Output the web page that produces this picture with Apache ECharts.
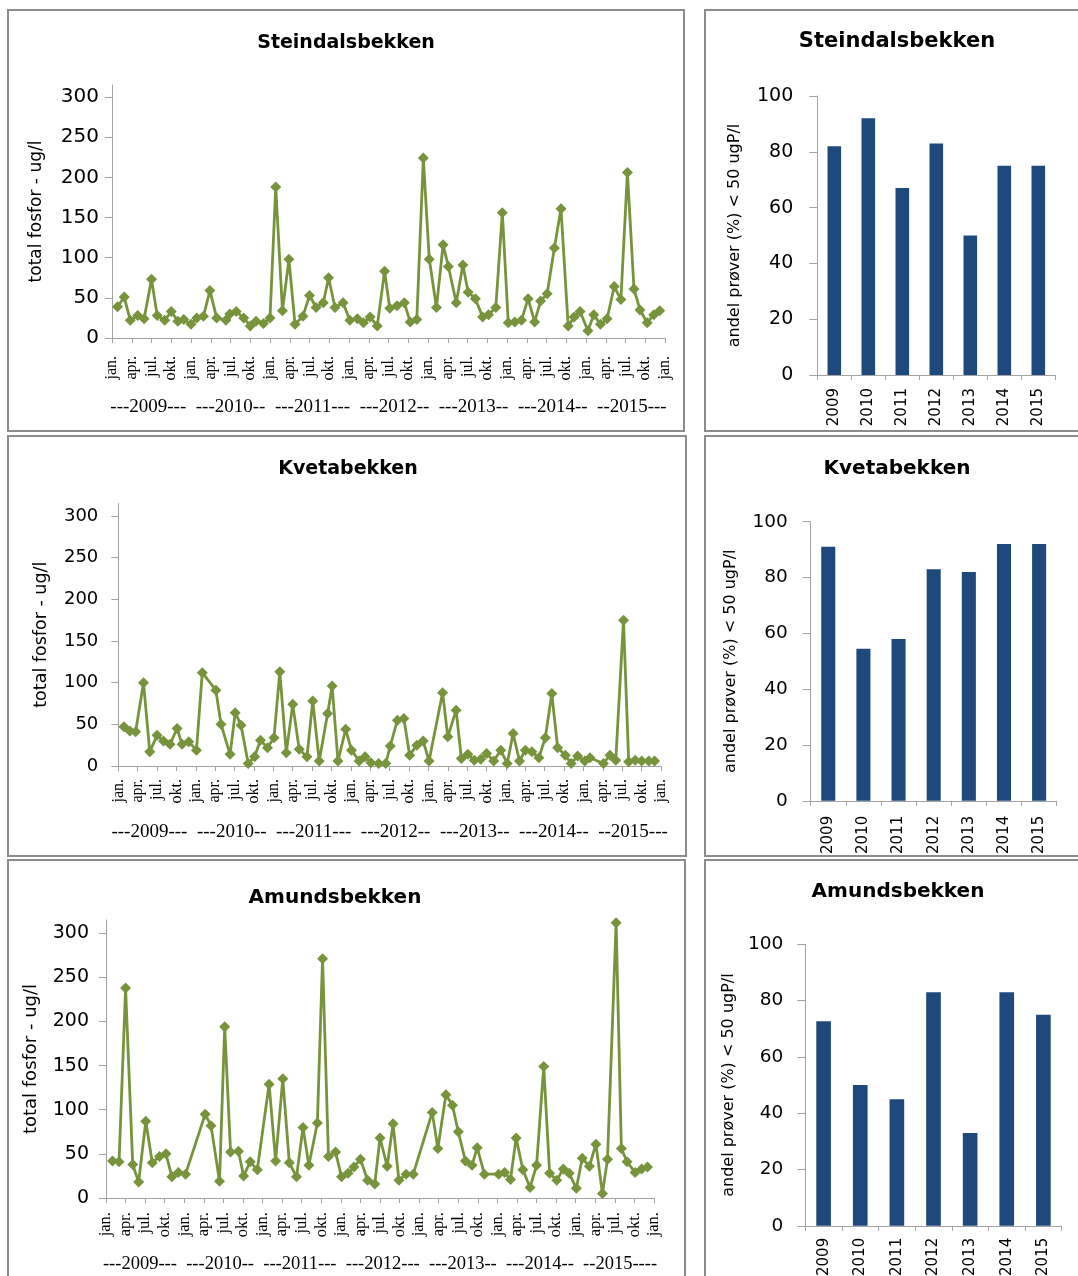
<!DOCTYPE html>
<html>
<head>
<meta charset="utf-8">
<script src="https://cdn.jsdelivr.net/npm/echarts@6/dist/echarts.min.js"></script>
<style>
  html, body { margin: 0; padding: 0; background: #fff; width: 1078px; height: 1276px; overflow: hidden; position: relative; }
  .panel { position: absolute; }
  .frame { position: absolute; box-sizing: border-box; border: 2px solid #8c8c8c; pointer-events: none; }
</style>
</head>
<body>
<div id="lt" class="panel" style="left:7px;top:9px;width:678px;height:423px"></div>
<div id="lm" class="panel" style="left:7px;top:435px;width:680px;height:422px"></div>
<div id="lb" class="panel" style="left:7px;top:859px;width:679px;height:420px"></div>
<div id="rt" class="panel" style="left:704px;top:9px;width:380px;height:423px"></div>
<div id="rm" class="panel" style="left:704px;top:435px;width:380px;height:422px"></div>
<div id="rb" class="panel" style="left:704px;top:859px;width:380px;height:420px"></div>
<div class="frame" style="left:7px;top:9px;width:678px;height:423px"></div>
<div class="frame" style="left:7px;top:435px;width:680px;height:422px"></div>
<div class="frame" style="left:7px;top:859px;width:679px;height:420px"></div>
<div class="frame" style="left:704px;top:9px;width:380px;height:423px"></div>
<div class="frame" style="left:704px;top:435px;width:380px;height:422px"></div>
<div class="frame" style="left:704px;top:859px;width:380px;height:420px"></div>
<script>
// ---- tick labels ----
const MONTH_LABELS = ['jan.', 'apr.', 'jul.', 'okt.'];
const YEARS = ['2009', '2010', '2011', '2012', '2013', '2014', '2015'];
const YEAR_LINE_A = '---2009---  ---2010--  ---2011---  ---2012--  ---2013--  ---2014--  --2015---';
const YEAR_LINE_B = '---2009---  ---2010--  ---2011---  ---2012---  ---2013--  ---2014--  --2015----';
const Y_TICKS_TP = [0, 50, 100, 150, 200, 250, 300];

// ---- Steindalsbekken: total phosphorus samples (ug/l) ----
const steindalDates = [
  '2009-01-27','2009-02-25','2009-03-25','2009-04-28','2009-05-28','2009-07-01','2009-07-28','2009-09-01','2009-10-01','2009-11-01','2009-11-28',
  '2010-01-01','2010-01-28','2010-02-26','2010-03-28','2010-04-28','2010-06-10','2010-06-28','2010-07-28','2010-09-01','2010-10-01','2010-10-28','2010-12-01',
  '2011-01-01','2011-01-28','2011-02-26','2011-03-28','2011-04-25','2011-06-01','2011-07-01','2011-08-01','2011-09-04','2011-09-28','2011-10-28','2011-12-04',
  '2012-01-05','2012-02-09','2012-03-07','2012-04-07','2012-05-10','2012-06-13','2012-07-07','2012-08-10','2012-09-13','2012-10-10','2012-11-10','2012-12-10',
  '2013-01-07','2013-02-09','2013-03-10','2013-04-04','2013-05-10','2013-06-10','2013-07-04','2013-08-07','2013-09-10','2013-10-07','2013-11-10','2013-12-10',
  '2014-01-07','2014-02-06','2014-03-07','2014-04-07','2014-05-07','2014-06-04','2014-07-04','2014-08-07','2014-09-07','2014-10-10','2014-11-07','2014-12-04',
  '2015-01-10','2015-02-06','2015-03-07','2015-04-07','2015-05-10','2015-06-10','2015-07-10','2015-08-10','2015-09-07','2015-10-10','2015-11-10','2015-12-07'
];
const steindalTP = [
  39, 51, 22, 28, 24, 73, 28, 22, 33, 21, 23,
  17, 25, 27, 59, 25, 22, 30, 33, 25, 15, 21, 18,
  25, 188, 34, 98, 17, 27, 53, 38, 44, 75, 38, 44,
  22, 24, 19, 26, 15, 83, 37, 40, 44, 20, 23, 224,
  98, 38, 116, 89, 44, 91, 57, 49, 26, 29, 38, 156,
  19, 20, 22, 49, 20, 46, 55, 112, 161, 15, 26, 33,
  9, 29, 17, 24, 64, 48, 206, 61, 35, 19, 29, 34
];

// ---- Kvetabekken ----
const kvetaDates = [
  '2009-01-28','2009-02-23','2009-03-22','2009-04-28','2009-05-28','2009-07-01','2009-08-01','2009-09-01','2009-10-04','2009-10-28','2009-11-28',
  '2010-01-04','2010-02-01','2010-04-04','2010-04-28','2010-06-10','2010-07-04','2010-08-01','2010-09-04','2010-10-04','2010-11-01','2010-12-04',
  '2011-01-04','2011-02-01','2011-03-01','2011-04-01','2011-05-01','2011-06-07','2011-07-04','2011-08-04','2011-09-13','2011-10-04','2011-11-01','2011-12-07',
  '2012-01-04','2012-02-09','2012-03-07','2012-04-04','2012-05-10','2012-06-13','2012-07-04','2012-08-07','2012-09-07','2012-10-04','2012-11-07','2012-12-07',
  '2013-01-04','2013-03-07','2013-04-01','2013-05-10','2013-06-04','2013-07-04','2013-08-04','2013-09-04','2013-10-01','2013-11-04','2013-12-07',
  '2014-01-07','2014-02-04','2014-03-04','2014-04-01','2014-05-01','2014-06-04','2014-07-04','2014-08-04','2014-09-01','2014-10-07','2014-11-04','2014-12-04',
  '2015-01-07','2015-02-01','2015-04-04','2015-05-04','2015-06-01','2015-07-07','2015-08-01','2015-09-01','2015-10-01','2015-11-04','2015-12-01'
];
const kvetaTP = [
  47, 42, 41, 100, 17, 37, 30, 26, 45, 26, 29,
  19, 112, 91, 50, 14, 64, 49, 3, 11, 31, 22,
  34, 113, 16, 74, 20, 11, 78, 6, 63, 96, 6, 44,
  19, 6, 11, 4, 3, 3, 24, 55, 57, 13, 25, 30,
  6, 88, 35, 67, 9, 14, 7, 8, 15, 6, 19,
  3, 39, 6, 19, 17, 10, 34, 87, 22, 13, 3, 12,
  6, 10, 3, 13, 7, 175, 5, 7, 6, 6, 6
];

// ---- Amundsbekken ----
const amundDates = [
  '2009-02-01','2009-03-01','2009-04-01','2009-05-04','2009-06-01','2009-07-04','2009-08-04','2009-09-07','2009-10-07','2009-11-04','2009-12-04',
  '2010-01-07','2010-04-07','2010-05-04','2010-06-13','2010-07-07','2010-08-04','2010-09-10','2010-10-04','2010-11-04','2010-12-07',
  '2011-02-01','2011-03-01','2011-04-04','2011-05-04','2011-06-07','2011-07-07','2011-08-04','2011-09-13','2011-10-07','2011-11-04','2011-12-07',
  '2012-01-04','2012-02-04','2012-03-01','2012-04-01','2012-05-04','2012-06-07','2012-07-01','2012-08-04','2012-09-01','2012-09-28','2012-11-01','2012-12-04',
  '2013-03-01','2013-03-28','2013-05-04','2013-06-04','2013-07-01','2013-08-04','2013-09-04','2013-09-28','2013-11-01',
  '2014-01-07','2014-02-04','2014-03-01','2014-03-28','2014-04-28','2014-06-01','2014-07-01','2014-08-04','2014-09-01','2014-10-04','2014-11-04','2014-12-01',
  '2015-01-04','2015-02-01','2015-03-04','2015-04-04','2015-05-04','2015-05-28','2015-07-07','2015-08-01','2015-08-28','2015-10-04','2015-11-04','2015-12-01'
];
const amundTP = [
  42, 41, 238, 38, 18, 87, 40, 47, 50, 24, 29,
  27, 95, 82, 19, 194, 52, 53, 25, 41, 32,
  129, 42, 135, 40, 24, 80, 37, 85, 271, 47, 52,
  24, 28, 35, 44, 20, 16, 68, 36, 84, 20, 27, 27,
  97, 56, 117, 105, 75, 42, 37, 57, 27,
  27, 29, 21, 68, 32, 12, 37, 149, 28, 20, 33, 28,
  11, 45, 36, 61, 5, 44, 312, 56, 41, 29, 33, 35
];

// ---- share of samples below 50 ugP/l per year (%) ----
const steindalShare = [82, 92, 67, 83, 50, 75, 75];
const kvetaShare = [91, 54.5, 58, 83, 82, 92, 92];
const amundShare = [72.7, 50, 45, 83, 33, 83, 75];

// ---- styling ----
const SANS = '"DejaVu Sans", Verdana, sans-serif';
const SERIF = '"Liberation Serif", "Times New Roman", serif';
const LINE_COLOR = '#77933C';
const BAR_COLOR = '#1F497D';
const AXIS_COLOR = '#a3a3a3';

// month offset since Jan 2009 (fractional within the month)
function monthPos(s) {
  const [y, m, d] = s.split('-').map(Number);
  const dim = new Date(y, m, 0).getDate();
  return (y - 2009) * 12 + (m - 1) + (d - 1) / dim;
}

function titleGraphic(text, x, y, size) {
  return [{
    type: 'text', x: x, y: y, silent: true,
    style: {
      text: text, fill: '#000', font: 'bold ' + size + 'px ' + SANS,
      align: 'center', verticalAlign: 'middle', textAlign: 'center', textVerticalAlign: 'middle'
    }
  }];
}

function lineOption(c) {
  return {
    animation: false,
    graphic: titleGraphic(c.title, c.titleX, c.titleY, c.titleSize),
    grid: { left: c.grid[0], top: c.grid[1], width: c.grid[2], height: c.grid[3], containLabel: false },
    xAxis: {
      type: 'value', min: 0, max: 84, interval: 3,
      splitLine: { show: false },
      axisLine: { show: true, lineStyle: { color: AXIS_COLOR, width: 1 } },
      axisTick: { show: true, length: 5, lineStyle: { color: AXIS_COLOR } },
      axisLabel: {
        rotate: 90, margin: c.monthMargin, color: '#000',
        fontFamily: SERIF, fontSize: c.monthSize,
        formatter: v => MONTH_LABELS[Math.round(v / 3) % 4]
      },
      name: c.yearLine, nameLocation: 'middle', nameGap: c.yearGap,
      nameTextStyle: { fontFamily: SERIF, fontSize: c.yearSize, color: '#000' }
    },
    yAxis: {
      type: 'value', min: 0, max: 315, interval: 50,
      splitLine: { show: false },
      axisLine: { show: true, lineStyle: { color: AXIS_COLOR, width: 1 } },
      axisTick: { show: true, length: 7, lineStyle: { color: AXIS_COLOR }, customValues: Y_TICKS_TP },
      axisLabel: { margin: c.yMargin, color: '#000', fontFamily: SANS, fontSize: c.ySize, customValues: Y_TICKS_TP },
      name: 'total fosfor - ug/l', nameLocation: 'middle', nameGap: c.nameGap,
      nameTextStyle: { fontFamily: SANS, fontSize: c.nameSize, color: '#000' }
    },
    series: [{
      type: 'line',
      data: c.dates.map((d, i) => [monthPos(d), c.values[i]]),
      symbol: 'diamond', symbolSize: 11,
      lineStyle: { color: LINE_COLOR, width: 2.8 },
      itemStyle: { color: LINE_COLOR },
      emphasis: { disabled: true }
    }]
  };
}

function barOption(c) {
  return {
    animation: false,
    graphic: titleGraphic(c.title, c.titleX, c.titleY, c.titleSize),
    grid: { left: c.grid[0], top: c.grid[1], width: c.grid[2], height: c.grid[3], containLabel: false },
    xAxis: {
      type: 'category', data: YEARS,
      axisLine: { show: true, lineStyle: { color: AXIS_COLOR, width: 1 } },
      axisTick: { show: true, length: 5, lineStyle: { color: AXIS_COLOR } },
      axisLabel: { rotate: 90, margin: c.xMargin, color: '#000', fontFamily: SANS, fontSize: 15 }
    },
    yAxis: {
      type: 'value', min: 0, max: 100, interval: 20,
      splitLine: { show: false },
      axisLine: { show: true, lineStyle: { color: AXIS_COLOR, width: 1 } },
      axisTick: { show: true, length: 8, lineStyle: { color: AXIS_COLOR } },
      axisLabel: { margin: c.yMargin, color: '#000', fontFamily: SANS, fontSize: c.ySize },
      name: 'andel prøver (%) < 50 ugP/l', nameLocation: 'middle', nameGap: c.nameGap,
      nameTextStyle: { fontFamily: SANS, fontSize: 16, color: '#000' }
    },
    series: [{
      type: 'bar', data: c.values, barWidth: '40%',
      itemStyle: { color: BAR_COLOR },
      emphasis: { disabled: true }
    }]
  };
}

function mount(id, option) {
  const chart = echarts.init(document.getElementById(id), null, { renderer: 'canvas' });
  chart.setOption(option);
}

mount('lt', lineOption({
  title: 'Steindalsbekken', titleX: 339, titleY: 34, titleSize: 19,
  grid: [105, 76, 553, 253],
  dates: steindalDates, values: steindalTP,
  monthMargin: 18, monthSize: 16, yearLine: YEAR_LINE_A, yearGap: 60, yearSize: 19,
  yMargin: 13, ySize: 20, nameGap: 67, nameSize: 17
}));
mount('lm', lineOption({
  title: 'Kvetabekken', titleX: 341, titleY: 34, titleSize: 19,
  grid: [111.3, 68.5, 542.7, 262.5],
  dates: kvetaDates, values: kvetaTP,
  monthMargin: 13, monthSize: 16, yearLine: YEAR_LINE_A, yearGap: 57, yearSize: 19,
  yMargin: 20, ySize: 18, nameGap: 68, nameSize: 17.5
}));
mount('lb', lineOption({
  title: 'Amundsbekken', titleX: 328, titleY: 39, titleSize: 20,
  grid: [99, 61, 548, 281],
  dates: amundDates, values: amundTP,
  monthMargin: 14, monthSize: 16.5, yearLine: YEAR_LINE_B, yearGap: 57, yearSize: 18.5,
  yMargin: 17, ySize: 19, nameGap: 66, nameSize: 18
}));
mount('rt', barOption({
  title: 'Steindalsbekken', titleX: 193, titleY: 33, titleSize: 21,
  grid: [113.3, 87, 238, 279], values: steindalShare,
  xMargin: 13, yMargin: 24, ySize: 19, nameGap: 74
}));
mount('rm', barOption({
  title: 'Kvetabekken', titleX: 193, titleY: 34, titleSize: 20,
  grid: [106.7, 86.7, 246, 280], values: kvetaShare,
  xMargin: 15, yMargin: 23, ySize: 18.5, nameGap: 72
}));
mount('rb', barOption({
  title: 'Amundsbekken', titleX: 194, titleY: 33, titleSize: 20,
  grid: [101.3, 85.3, 256.4, 282.4], values: amundShare,
  xMargin: 12, yMargin: 22, ySize: 18.5, nameGap: 68
}));
</script>
</body>
</html>
